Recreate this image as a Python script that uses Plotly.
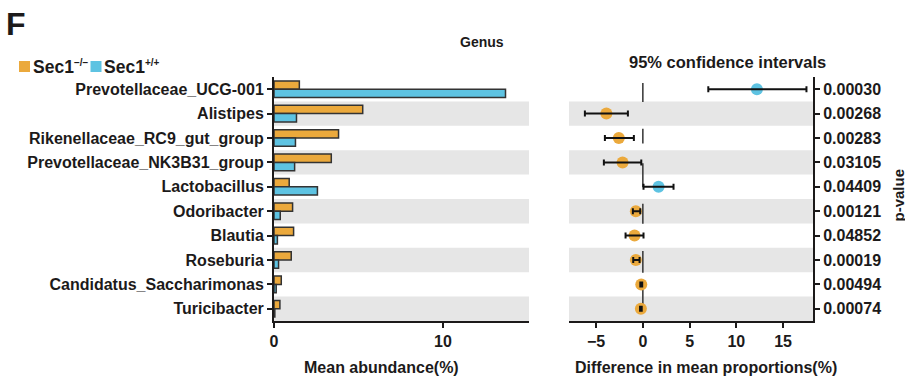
import plotly.graph_objects as go

# ---- data -------------------------------------------------------------
genera = [
    "Prevotellaceae_UCG-001",
    "Alistipes",
    "Rikenellaceae_RC9_gut_group",
    "Prevotellaceae_NK3B31_group",
    "Lactobacillus",
    "Odoribacter",
    "Blautia",
    "Roseburia",
    "Candidatus_Saccharimonas",
    "Turicibacter",
]
mean_ko = [1.50, 5.25, 3.82, 3.39, 0.90, 1.10, 1.16, 1.02, 0.43, 0.35]   # Sec1-/-
mean_wt = [13.70, 1.33, 1.27, 1.22, 2.57, 0.37, 0.20, 0.27, 0.13, 0.05]  # Sec1+/+
diff = [12.2, -3.90, -2.57, -2.17, 1.68, -0.75, -0.89, -0.75, -0.17, -0.21]
ci_low = [7.0, -6.20, -4.06, -4.17, 0.07, -1.07, -1.85, -1.03, -0.27, -0.30]
ci_high = [17.5, -1.60, -0.96, -0.17, 3.28, -0.28, 0.07, -0.35, -0.07, -0.12]
p_values = ["0.00030", "0.00268", "0.00283", "0.03105", "0.04409",
            "0.00121", "0.04852", "0.00019", "0.00494", "0.00074"]
abund_ticks = [0, 10]
diff_ticks = [-5, 0, 5, 10, 15]

# ---- style ------------------------------------------------------------
W, H = 905, 378
ORANGE = "#EBA93C"
BLUE = "#5EC3E2"
BAND = "#E6E6E6"
INK = "#1c1a1a"
FONT = "Liberation Sans, Arial, sans-serif"


def px(x):
    return x / W


def py(y):
    return 1 - y / H


def font(size, color=INK):
    return dict(family=FONT, size=size, color=color, weight="bold")


rows = list(range(len(genera)))
row_range = [len(genera) - 0.5, -0.5]

fig = go.Figure()

# left panel: mean abundance bars
fig.add_trace(go.Bar(
    y=rows, x=mean_ko, orientation="h", name="Sec1-/-",
    marker=dict(color=ORANGE, line=dict(color="#333333", width=1.5)),
    xaxis="x", yaxis="y",
))
fig.add_trace(go.Bar(
    y=rows, x=mean_wt, orientation="h", name="Sec1+/+",
    marker=dict(color=BLUE, line=dict(color="#333333", width=1.5)),
    xaxis="x", yaxis="y",
))

# right panel: difference with 95% CI
point_colors = [BLUE if d > 0 else ORANGE for d in diff]
fig.add_trace(go.Scatter(
    x=diff, y=rows, mode="markers",
    marker=dict(size=12, color=point_colors, line=dict(width=0)),
    xaxis="x2", yaxis="y2",
))
fig.add_trace(go.Scatter(
    x=diff, y=rows, mode="markers",
    marker=dict(size=1, color="rgba(0,0,0,0)"),
    error_x=dict(
        type="data", symmetric=False,
        array=[h - d for h, d in zip(ci_high, diff)],
        arrayminus=[d - l for d, l in zip(diff, ci_low)],
        color="#111111", thickness=2, width=3,
    ),
    xaxis="x2", yaxis="y2",
))

shapes = []
# alternating row bands in both panels
for r in rows:
    if r % 2 == 1:
        for xr, yr in (("x domain", "y"), ("x2 domain", "y2")):
            shapes.append(dict(
                type="rect", xref=xr, yref=yr, x0=0, x1=1,
                y0=r - 0.5, y1=r + 0.5, fillcolor=BAND,
                line=dict(width=0), layer="below",
            ))

# zero reference line of the difference panel, drawn in pieces
zero_segments = [(-0.25, 0.52), (1.62, 2.23), (3.03, 4.02),
                 (4.69, 5.51), (6.63, 7.52), (8.07, 9.0)]
for y0, y1 in zero_segments:
    shapes.append(dict(
        type="line", xref="x2", yref="y2", x0=0, x1=0, y0=y0, y1=y1,
        line=dict(color="#333333", width=1.5), layer="below",
    ))

# legend swatches
shapes.append(dict(type="rect", xref="paper", yref="paper",
                   x0=px(19), x1=px(30), y0=py(72), y1=py(61),
                   fillcolor=ORANGE, line=dict(width=0)))
shapes.append(dict(type="rect", xref="paper", yref="paper",
                   x0=px(90.5), x1=px(101.5), y0=py(72), y1=py(61),
                   fillcolor=BLUE, line=dict(width=0)))

annotations = [
    dict(text="F", x=px(4), y=py(24), xanchor="left", yanchor="middle",
         font=dict(family=FONT, size=32, color=INK, weight="bold")),
    dict(text="Sec1<sup><span style='font-size:10px'>\u2212/\u2212</span></sup>",
         x=px(31), y=py(67), xanchor="left", yanchor="middle", font=font(17.5)),
    dict(text="Sec1<sup><span style='font-size:10px'>+/+</span></sup>",
         x=px(102), y=py(67), xanchor="left", yanchor="middle", font=font(17.5)),
    dict(text="Genus", x=px(482), y=py(42), xanchor="center",
         yanchor="middle", font=font(14)),
    dict(text="95% confidence intervals", x=px(727), y=py(62),
         xanchor="center", yanchor="middle", font=font(16.5)),
    dict(text="Mean abundance(%)", x=px(381), y=py(367), xanchor="center",
         yanchor="middle", font=font(16)),
    dict(text="Difference in mean proportions(%)", x=px(706), y=py(367),
         xanchor="center", yanchor="middle", font=font(16)),
    dict(text="p-value", x=px(897.5), y=py(195), xanchor="center",
         yanchor="middle", textangle=-90, font=font(15)),
    # axis titles of the panel above, cut by the top edge
    dict(text="Mean abundance(%)", x=px(349), y=py(-10), xanchor="center",
         yanchor="middle", font=font(16)),
    dict(text="Difference in mean proportions(%)", x=px(602), y=py(-10),
         xanchor="center", yanchor="middle", font=font(16)),
]
for a in annotations:
    a.setdefault("xref", "paper")
    a.setdefault("yref", "paper")
    a.setdefault("showarrow", False)

axis_common = dict(
    showgrid=False, zeroline=False, showline=True, linecolor=INK,
    linewidth=2, ticks="outside", ticklen=5, tickwidth=2, tickcolor=INK,
    tickfont=font(16), automargin=False,
)

fig.update_layout(
    width=W, height=H,
    margin=dict(l=0, r=0, t=0, b=0),
    paper_bgcolor="white", plot_bgcolor="white",
    showlegend=False,
    barmode="group", bargap=0.32, bargroupgap=0,
    xaxis=dict(domain=[px(274), px(529)], range=[0, 15.09],
               tickvals=abund_ticks, anchor="y", **axis_common),
    yaxis=dict(domain=[py(321), py(77)], range=row_range,
               tickvals=rows, ticktext=genera, anchor="x", **axis_common),
    xaxis2=dict(domain=[px(569), px(813)], range=[-7.9, 18.2],
                tickvals=diff_ticks, anchor="y2", **axis_common),
    yaxis2=dict(domain=[py(321), py(77)], range=row_range,
                tickvals=rows, ticktext=p_values, anchor="x2", side="right",
                **axis_common),
    shapes=shapes,
    annotations=annotations,
)

fig.write_html("out.html")
